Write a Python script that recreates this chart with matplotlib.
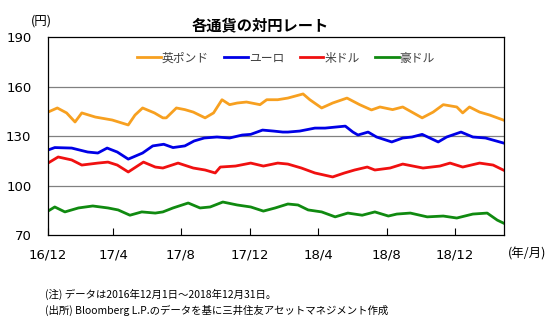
import matplotlib
matplotlib.use("Agg")
import matplotlib.pyplot as plt

plt.rcParams['font.family'] = ['Noto Sans CJK JP', 'DejaVu Sans']

# x = trading-day index (0 .. 540)
gbp_x = [0, 11, 22, 32, 40, 56, 76, 95, 103, 112, 126, 136, 140, 152, 162, 172, 186, 196,
         206, 215, 224, 235, 251, 259, 272, 284, 302, 310, 324, 337, 354, 369, 383, 393,
         408, 420, 443, 456, 468, 484, 491, 499, 511, 523, 539]
gbp_y = [144.5, 147, 144, 138.5, 144, 141.5, 139.7, 136.7, 142.7, 147, 144, 141, 141, 147,
         146, 144.5, 141, 144, 152, 149, 150, 150.6, 149, 152, 152, 153, 155.5, 152, 147,
         150, 153, 149, 145.8, 147.6, 146, 147.6, 141, 144.5, 149, 147.6, 144, 147.6,
         144.5, 142.7, 139.7]

eur_x = [0, 8, 28, 47, 59, 70, 82, 95, 101, 112, 124, 137, 148, 162, 173, 185, 200, 215,
         230, 240, 254, 267, 278, 284, 298, 316, 328, 352, 361, 367, 379, 389, 407, 420,
         431, 443, 462, 472, 489, 503, 518, 539]
eur_y = [121.5, 123, 122.7, 120.3, 119.7, 122.7, 120.3, 116, 117.3, 119.7, 124, 125, 123,
         124, 127, 128.8, 129.4, 128.8, 130.6, 131, 133.6, 133, 132.4, 132.4, 133,
         134.8, 134.8, 136, 132.4, 130.6, 132.4, 129.4, 126.4, 128.8, 129.4, 131,
         126.4, 129.4, 132.4, 129.4, 128.8, 125.8]

usd_x = [0, 12, 28, 40, 59, 71, 82, 95, 113, 127, 136, 154, 172, 186, 198, 204, 222, 240,
         255, 272, 284, 300, 316, 337, 351, 363, 378, 387, 405, 420, 444, 464, 476, 491,
         511, 527, 539]
usd_y = [113.6, 117.3, 115.5, 112.4, 113.6, 114.2, 112.4, 108.2, 114.2, 111.2, 110.6,
         113.6, 110.6, 109.4, 107.6, 111.2, 111.8, 113.6, 111.8, 113.6, 113, 110.6,
         107.6, 105.2, 107.6, 109.4, 111.2, 109.4, 110.6, 113, 110.6, 111.8, 113.6,
         111.2, 113.6, 112.4, 109.4]

aud_x = [0, 8, 20, 36, 53, 71, 83, 97, 111, 127, 136, 148, 166, 180, 192, 207, 224, 240,
         255, 269, 284, 296, 308, 324, 340, 355, 372, 387, 403, 413, 429, 449, 468, 484,
         503, 520, 532, 539]
aud_y = [84.5, 87, 84, 86.4, 87.6, 86.4, 85.2, 82, 84, 83.3, 84, 86.4, 89.4, 86.4, 87,
         90, 88.2, 87, 84.5, 86.4, 88.8, 88.2, 85.2, 84, 81, 83.3, 82, 84, 81.5, 82.7,
         83.3, 81, 81.5, 80.3, 82.7, 83.3, 79, 77.3]

tick_pos = [0, 77, 157, 239, 320, 401, 482]
tick_labels = ['16/12', '17/4', '17/8', '17/12', '18/4', '18/8', '18/12']

fig = plt.figure(figsize=(5.57, 3.23), dpi=100)
ax = fig.add_axes([0.0862, 0.2724, 0.8188, 0.613])

ax.plot(gbp_x, gbp_y, color='#F7A020', lw=2.0, label='英ポンド')
ax.plot(eur_x, eur_y, color='#0000E6', lw=2.0, label='ユーロ')
ax.plot(usd_x, usd_y, color='#F01010', lw=2.0, label='米ドル')
ax.plot(aud_x, aud_y, color='#108A10', lw=2.0, label='豪ドル')

ax.set_xlim(0, 540)
ax.set_ylim(70, 190)
ax.set_yticks([70, 100, 130, 160, 190])
ax.set_xticks(tick_pos)
ax.set_xticklabels(tick_labels)
ax.tick_params(axis='x', direction='in', length=5, pad=10, labelsize=9.5, colors='black')
ax.tick_params(axis='y', length=0, pad=12, labelsize=9.5)
for lab in ax.get_xticklabels() + ax.get_yticklabels():
    lab.set_family(['DejaVu Sans'])
for v in [100, 130, 160]:
    ax.axhline(v, color='#808080', lw=0.9, zorder=0)
for s in ax.spines.values():
    s.set_color('black')
    s.set_linewidth(0.9)

ax.legend(loc='upper center', bbox_to_anchor=(0.522, 0.98), ncol=4, frameon=False,
          fontsize=8.5, handlelength=2.0, handletextpad=0.1, columnspacing=1.3,
          labelcolor='#404040')

fig.text(0.468, 0.92, '各通貨の対円レート', ha='center', va='center',
         fontsize=11, fontweight='bold')
fig.text(0.074, 0.935, '(円)', ha='center', va='center', fontsize=9)
fig.text(0.912, 0.213, '(年/月)', ha='left', va='center', fontsize=9)
fig.text(0.08, 0.09, '(注) データは2016年12月1日～2018年12月31日。', fontsize=7.5,
         va='center')
fig.text(0.08, 0.038, '(出所) Bloomberg L.P.のデータを基に三井住友アセットマネジメント作成',
         fontsize=7.5, va='center')

fig.savefig('out.png', dpi=100)
